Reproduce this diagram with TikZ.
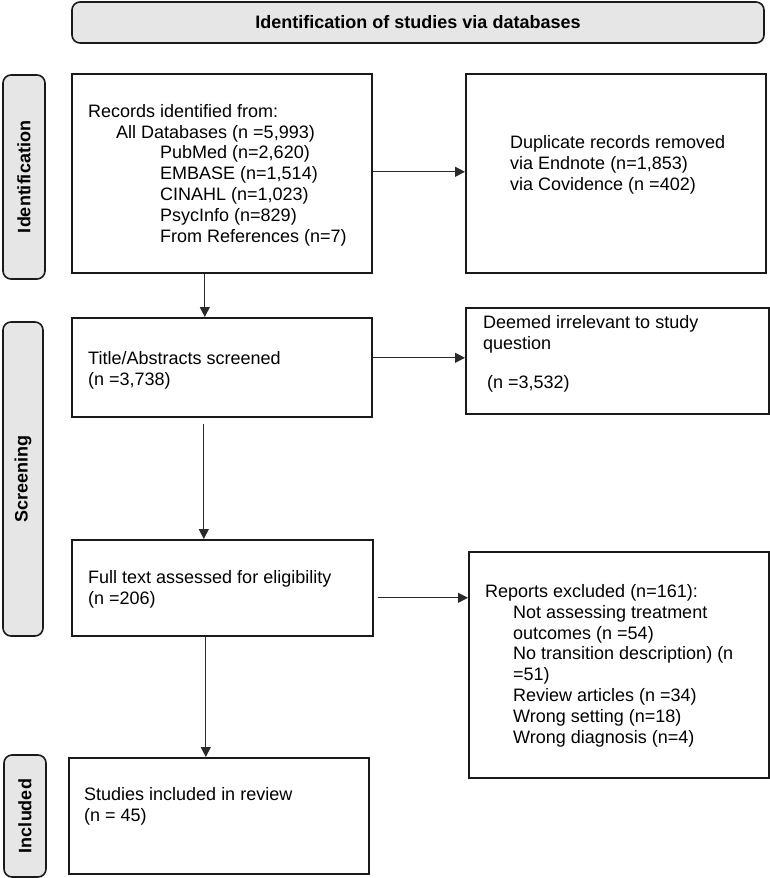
\documentclass[tikz,border=0pt]{standalone}
\usepackage{fontspec}
\setmainfont{Liberation Sans}
\usetikzlibrary{arrows.meta}
\definecolor{boxgray}{HTML}{E6E6E6}
\definecolor{edge}{HTML}{1A1A1A}
\definecolor{conn}{HTML}{2A2A2A}
\begin{document}
\begin{tikzpicture}[x=1pt,y=-1pt,
  box/.style={draw=edge, line width=1.6pt, anchor=north west, inner sep=0pt},
  hdr/.style={draw=edge, fill=boxgray, line width=1.6pt, rounded corners=8pt, inner sep=0pt, font=\bfseries\fontsize{18}{21}\selectfont},
  stage/.style={hdr, rotate=90, anchor=center},
  txt/.style={anchor=base west, align=left, inner sep=0pt, font=\fontsize{18}{20.8}\selectfont},
  arr/.style={draw=conn, line width=1pt, -{Triangle[length=10pt,width=10pt]}}]
\useasboundingbox (0,0) rectangle (770,878);

% header
\node[hdr, minimum width=692pt, minimum height=41pt, anchor=center] (head) at (418,22.5) {Identification of studies via databases};

% stage labels
\node[stage, minimum width=204pt, minimum height=42pt] (sid) at (24,177) {Identification};
\node[stage, minimum width=314pt, minimum height=40pt] (sscr) at (23,479) {Screening};
\node[stage, minimum width=122pt, minimum height=42pt] (sinc) at (25,816) {Included};

% boxes
\node[box, minimum width=300pt, minimum height=199pt] (b1) at (71,73) {};
\node[box, minimum width=300pt, minimum height=199pt] (b2) at (465,73) {};
\node[box, minimum width=300pt, minimum height=99pt] (b3) at (71,317) {};
\node[box, minimum width=303pt, minimum height=106pt] (b4) at (465,307) {};
\node[box, minimum width=301pt, minimum height=96pt] (b5) at (71,539) {};
\node[box, minimum width=300pt, minimum height=226pt] (b6) at (468,551) {};
\node[box, minimum width=300pt, minimum height=116pt] (b7) at (68,757) {};

% texts (anchor = baseline of last line)
\node[txt] (t1) at (88,242) {Records identified from:\\
\hspace*{28pt}All Databases (n =5,993)\\
\hspace*{72pt}PubMed (n=2,620)\\
\hspace*{72pt}EMBASE (n=1,514)\\
\hspace*{72pt}CINAHL (n=1,023)\\
\hspace*{72pt}PsycInfo (n=829)\\
\hspace*{72pt}From References (n=7)};
\node[txt] (t2) at (510,190) {Duplicate records removed\\
via Endnote (n=1,853)\\
via Covidence (n =402)};
\node[txt] (t3) at (88,385) {Title/Abstracts screened\\
(n =3,738)};
\node[txt] (t4) at (483,388) {Deemed irrelevant to study\\
question\\[18pt]
\hspace*{4pt}(n =3,532)};
\node[txt] (t5) at (88,604) {Full text assessed for eligibility\\
(n =206)};
\node[txt] (t6) at (485,743) {Reports excluded (n=161):\\
\hspace*{28pt}Not assessing treatment\\
\hspace*{28pt}outcomes (n =54)\\
\hspace*{28pt}No transition description) (n\\
\hspace*{28pt}=51)\\
\hspace*{28pt}Review articles (n =34)\\
\hspace*{28pt}Wrong setting (n=18)\\
\hspace*{28pt}Wrong diagnosis (n=4)};
\node[txt] (t7) at (84,821) {Studies included in review\\
(n = 45)};

% connectors
\draw[arr] ([yshift=1.5pt]b1.east) -- ([yshift=1.5pt]b1.east -| b2.west);
\draw[arr] ([xshift=-17pt]b1.south) -- ([xshift=-17pt]b1.south |- b3.north);
\draw[arr] ([yshift=9.5pt]b3.east) -- ([yshift=9.5pt]b3.east -| b4.west);
\draw[arr] ([xshift=-18pt,yshift=-6pt]b3.south) -- ([xshift=-18pt]b3.south |- b5.north);
\draw[arr] ([xshift=4pt,yshift=-10pt]b5.east) -- ([yshift=-10pt]b5.east -| b6.west);
\draw[arr] ([xshift=-16.5pt]b5.south) -- ([xshift=-16.5pt]b5.south |- b7.north);
\end{tikzpicture}
\end{document}
